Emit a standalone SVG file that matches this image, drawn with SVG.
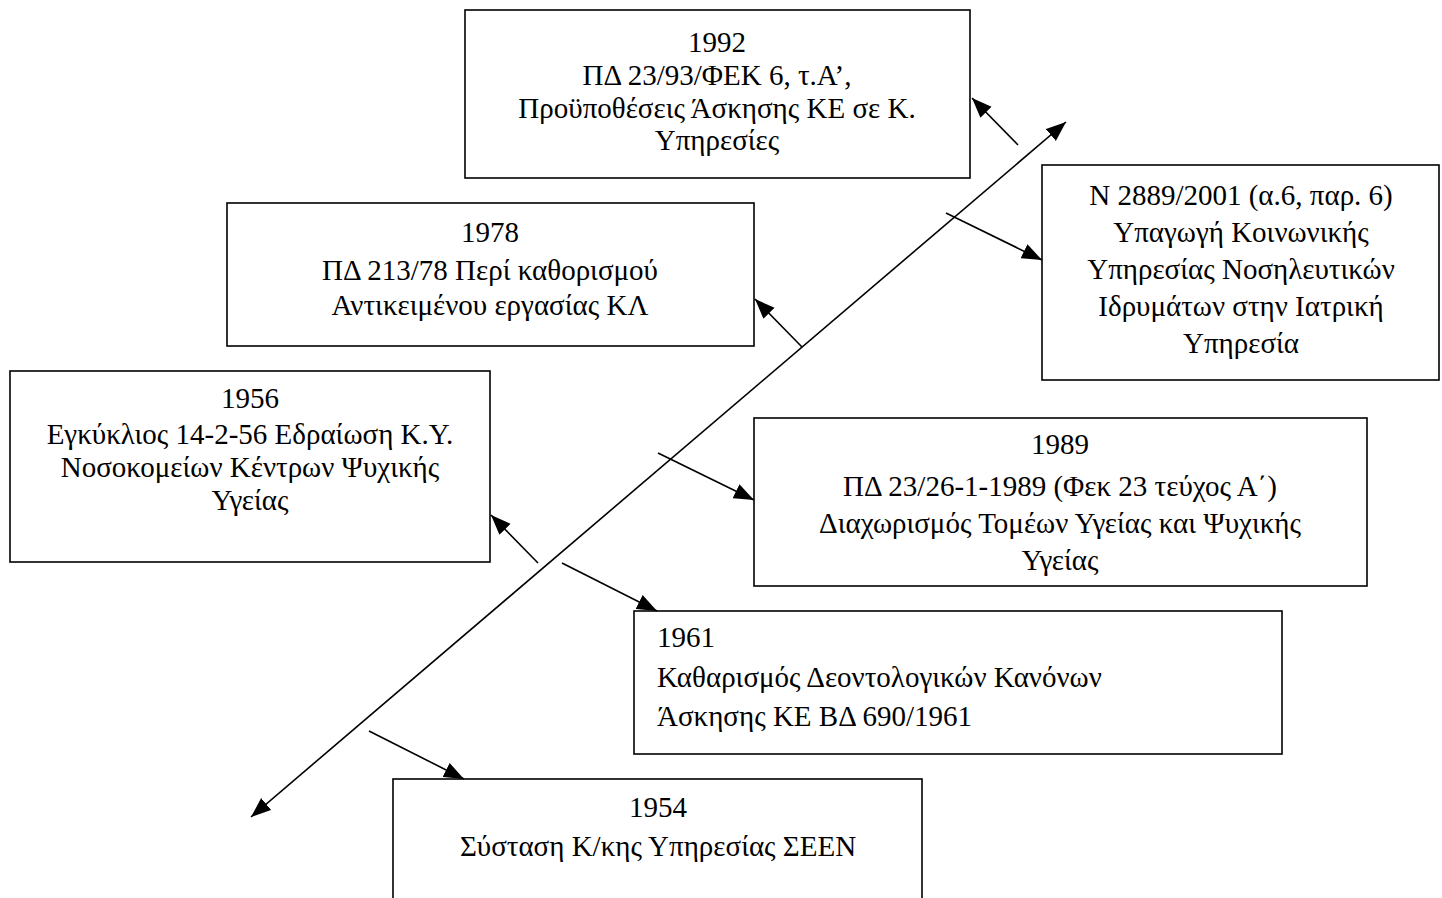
<svg xmlns="http://www.w3.org/2000/svg" width="1442" height="898" viewBox="0 0 1442 898">
<style>
.box{fill:#fff;stroke:#000;stroke-width:1.6}
.t{font-family:"Liberation Serif","Times New Roman",serif;font-size:29px;fill:#000}
.c{text-anchor:middle}
.ln{stroke:#000;stroke-width:1.6;fill:none}
</style>
<defs>
<marker id="ah" markerUnits="userSpaceOnUse" markerWidth="20" markerHeight="16" refX="18" refY="7" orient="auto-start-reverse" viewBox="0 0 18 14">
<path d="M0,0 L18,7 L0,14 Z" fill="#000"/>
</marker>
</defs>
<rect width="1442" height="898" fill="#fff"/>
<g id="n1992">
<rect class="box" x="465" y="10" width="505" height="168"/>
<text class="t c" x="717" y="52">1992</text>
<text class="t c" x="717" y="85">ΠΔ 23/93/ΦΕΚ 6, τ.Α’,</text>
<text class="t c" x="717" y="118">Προϋποθέσεις Άσκησης ΚΕ σε Κ.</text>
<text class="t c" x="717" y="150">Υπηρεσίες</text>
</g>
<g id="n2001">
<rect class="box" x="1042" y="165" width="397" height="215"/>
<text class="t c" x="1241" y="205">N 2889/2001 (α.6, παρ. 6)</text>
<text class="t c" x="1241" y="242">Υπαγωγή Κοινωνικής</text>
<text class="t c" x="1241" y="279">Υπηρεσίας Νοσηλευτικών</text>
<text class="t c" x="1241" y="316">Ιδρυμάτων στην Ιατρική</text>
<text class="t c" x="1241" y="353">Υπηρεσία</text>
</g>
<g id="n1978">
<rect class="box" x="227" y="203" width="527" height="143"/>
<text class="t c" x="490" y="242">1978</text>
<text class="t c" x="490" y="280">ΠΔ 213/78 Περί καθορισμού</text>
<text class="t c" x="490" y="315">Αντικειμένου εργασίας ΚΛ</text>
</g>
<g id="n1956">
<rect class="box" x="10" y="371" width="480" height="191"/>
<text class="t c" x="250" y="408">1956</text>
<text class="t c" x="250" y="444">Εγκύκλιος 14-2-56 Εδραίωση Κ.Υ.</text>
<text class="t c" x="250" y="477">Νοσοκομείων Κέντρων Ψυχικής</text>
<text class="t c" x="250" y="510">Υγείας</text>
</g>
<g id="n1989">
<rect class="box" x="754" y="418" width="613" height="168"/>
<text class="t c" x="1060" y="454">1989</text>
<text class="t c" x="1060" y="496">ΠΔ 23/26-1-1989 (Φεκ 23 τεύχος Α΄)</text>
<text class="t c" x="1060" y="533">Διαχωρισμός Τομέων Υγείας και Ψυχικής</text>
<text class="t c" x="1060" y="570">Υγείας</text>
</g>
<g id="n1961">
<rect class="box" x="634" y="611" width="648" height="143"/>
<text class="t" x="657" y="647">1961</text>
<text class="t" x="657" y="687">Καθαρισμός Δεοντολογικών Κανόνων</text>
<text class="t" x="657" y="726">Άσκησης ΚΕ ΒΔ 690/1961</text>
</g>
<g id="n1954">
<rect class="box" x="393" y="779" width="529" height="140"/>
<text class="t c" x="658" y="817">1954</text>
<text class="t c" x="658" y="856">Σύσταση Κ/κης Υπηρεσίας ΣΕΕΝ</text>
</g>
<g id="connectors">
<line class="ln" x1="251" y1="817" x2="1066" y2="122" marker-start="url(#ah)" marker-end="url(#ah)"/>
<line class="ln" x1="1018" y1="145" x2="972" y2="98" marker-end="url(#ah)"/>
<line class="ln" x1="946" y1="213" x2="1042" y2="260" marker-end="url(#ah)"/>
<line class="ln" x1="802" y1="347" x2="755" y2="299" marker-end="url(#ah)"/>
<line class="ln" x1="658" y1="453" x2="754" y2="500" marker-end="url(#ah)"/>
<line class="ln" x1="538" y1="563" x2="491" y2="515" marker-end="url(#ah)"/>
<line class="ln" x1="562" y1="563" x2="657" y2="611" marker-end="url(#ah)"/>
<line class="ln" x1="369" y1="731" x2="464" y2="779" marker-end="url(#ah)"/>
</g>
</svg>
